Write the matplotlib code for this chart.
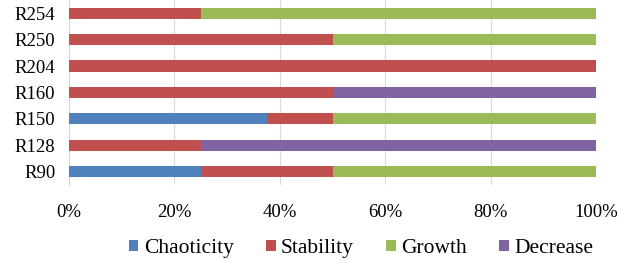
import matplotlib.pyplot as plt
from matplotlib.ticker import PercentFormatter

plt.rcParams['font.family'] = ['Liberation Serif', 'DejaVu Serif']

# Data (percent share per run)
runs = ["R90", "R128", "R150", "R160", "R204", "R250", "R254"]
chaoticity = [25, 0, 37.5, 0, 0, 0, 0]
stability = [25, 25, 12.5, 50, 100, 50, 25]
growth = [50, 0, 50, 0, 0, 50, 75]
decrease = [0, 75, 0, 50, 0, 0, 0]

series = [("Chaoticity", chaoticity, "#4F81BD"),
          ("Stability", stability, "#C0504D"),
          ("Growth", growth, "#9BBB59"),
          ("Decrease", decrease, "#8064A2")]

fig = plt.figure(figsize=(6.17, 2.63), dpi=100)
ax = fig.add_axes([0.112, 0.297, 0.854, 0.703])

left = [0] * len(runs)
for name, vals, color in series:
    ax.barh(runs, vals, left=left, height=0.42, color=color, label=name, zorder=3)
    left = [l + v for l, v in zip(left, vals)]

ax.set_xlim(0, 100)
ax.set_ylim(-0.5, len(runs) - 0.5)
ax.set_xticks(range(0, 101, 20))
ax.xaxis.set_major_formatter(PercentFormatter(decimals=0))
ax.grid(axis='x', color='#D9D9D9', linewidth=0.8, zorder=0)
for s in ['top', 'right', 'bottom']:
    ax.spines[s].set_visible(False)
ax.spines['left'].set_color('#D9D9D9')
ax.tick_params(axis='both', length=0, labelsize=13.5)
ax.tick_params(axis='x', pad=14)
ax.tick_params(axis='y', pad=10)

fig.legend(loc='lower center', bbox_to_anchor=(0.585, -0.055), ncol=4, frameon=False,
           prop={'family': 'Liberation Serif', 'size': 15.5},
           handlelength=0.45, handleheight=0.45, handletextpad=0.25,
           columnspacing=1.5)

fig.savefig("out.png", dpi=100)
